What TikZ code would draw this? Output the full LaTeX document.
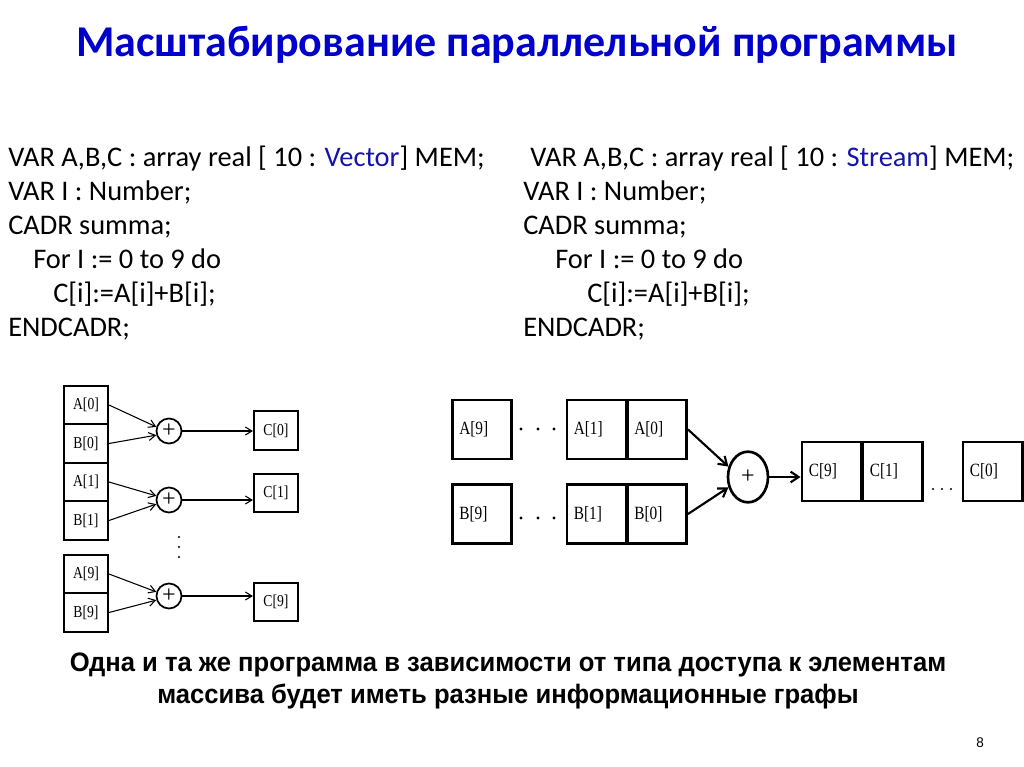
\documentclass[tikz,border=0pt]{standalone}
\usepackage{fontspec}
\setmainfont{Carlito}
\newfontfamily\timesfont{Liberation Serif}
\newfontfamily\timesnarrow[FakeStretch=0.82]{Liberation Serif}
\newfontfamily\arialfont[FakeStretch=0.96]{Liberation Sans}
\usetikzlibrary{shapes.geometric,arrows.meta}
\definecolor{titleblue}{RGB}{0,0,204}
\definecolor{typeblue}{RGB}{20,20,170}

\begin{document}
\begin{tikzpicture}[x=0.75pt,y=-0.75pt,
  code/.style={anchor=base west,inner sep=0pt,font=\fontsize{21.3}{24}\selectfont},
  cell/.style={draw,line width=1.5pt,minimum width=33pt,minimum height=28.9pt,inner sep=0pt,font=\timesnarrow\fontsize{12.5}{14}\selectfont},
  plus/.style={draw,circle,line width=1.3pt,minimum size=18.75pt,inner sep=0pt,font=\timesfont\fontsize{18}{18}\selectfont},
  wire/.style={line width=0.8pt,-{Straight Barb[length=5pt,width=6pt]}},
  bigcell/.style={draw,line width=2pt,text width=34pt,inner xsep=5.25pt,inner ysep=0pt,minimum height=44.25pt,align=left,font=\timesnarrow\fontsize{14}{16}\selectfont},
  bigplus/.style={draw,ellipse,line width=2pt,minimum width=30pt,minimum height=38pt,inner sep=0pt,font=\timesfont\fontsize{18}{18}\selectfont},
  bigwire/.style={line width=1.6pt,-{Straight Barb[length=6pt,width=8pt]}}]
\useasboundingbox (0,0) rectangle (1024,767);

% title
\node (title) at (517,45) {\fontsize{33}{36}\selectfont\bfseries\color{titleblue}Масштабирование параллельной программы};

% program with Vector access
\node[code] (v1) at (8,166) {VAR A,B,C : array real [ 10 : \textcolor{typeblue}{Vector}] MEM;};
\node[code] (v2) at (8,200) {VAR I : Number;};
\node[code] (v3) at (8,234) {CADR summa;};
\node[code] (v4) at (33,268) {For I := 0 to 9 do};
\node[code] (v5) at (53,302) {C[i]:=A[i]+B[i];};
\node[code] (v6) at (8,336) {ENDCADR;};

% program with Stream access
\node[code] (w1) at (530,166) {VAR A,B,C : array real [ 10 : \textcolor{typeblue}{Stream}] MEM;};
\node[code] (w2) at (523,200) {VAR I : Number;};
\node[code] (w3) at (523,234) {CADR summa;};
\node[code] (w4) at (555,268) {For I := 0 to 9 do};
\node[code] (w5) at (587,302) {C[i]:=A[i]+B[i];};
\node[code] (w6) at (523,336) {ENDCADR;};

% vector graph
\node[cell] (va0) at (86,405) {A[0]};
\node[cell] (vb0) at (86,443.5) {B[0]};
\node[cell] (va1) at (86,482) {A[1]};
\node[cell] (vb1) at (86,520.5) {B[1]};
\node[cell] (va9) at (86,574) {A[9]};
\node[cell] (vb9) at (86,612.5) {B[9]};
\node[plus] (vs0) at (169,431) {+};
\node[plus] (vs1) at (169,500) {+};
\node[plus] (vs9) at (169,596) {+};
\node[cell] (vc0) at (276,430.5) {C[0]};
\node[cell] (vc1) at (276,493) {C[1]};
\node[cell] (vc9) at (276,602) {C[9]};
\draw[wire] (va0.east) -- (vs0.162);
\draw[wire] (vb0.east) -- (vs0.198);
\draw[wire] (va1.east) -- (vs1.162);
\draw[wire] (vb1.east) -- (vs1.198);
\draw[wire] (va9.east) -- (vs9.162);
\draw[wire] (vb9.east) -- (vs9.198);
\draw[wire] (vs0) -- (vs0 -| vc0.west);
\draw[wire] (vs1) -- (vs1 -| vc1.west);
\draw[wire] (vs9) -- (vs9 -| vc9.west);
\foreach \y in {537,547,557} \fill (179,\y) circle (0.9pt);

% stream graph
\node[bigcell] (sa9) at (482,429.5) {A[9]};
\node[bigcell] (sa1) at (596.5,429.5) {A[1]};
\node[bigcell] (sa0) at (657,429.5) {A[0]};
\node[bigcell] (sb9) at (482,514) {B[9]};
\node[bigcell] (sb1) at (596.5,514) {B[1]};
\node[bigcell] (sb0) at (657,514) {B[0]};
\foreach \x in {521,538,554} {\fill (\x,429) circle (1.2pt); \fill (\x,518) circle (1.2pt);}
\node[bigplus] (ss) at (748,477) {+};
\node[bigcell] (sc9) at (831.5,471.5) {C[9]};
\node[bigcell] (sc1) at (892.5,471.5) {C[1]};
\node[bigcell] (sc0) at (992.5,471.5) {C[0]};
\foreach \x in {933,942,951} \fill (\x,489) circle (0.8pt);
\draw[bigwire] (sa0.east) -- (ss.152);
\draw[bigwire] (sb0.east) -- (ss.208);
\draw[bigwire] (ss) -- (ss -| sc9.west);

% note
\node (note) at (508,681) [align=center,font=\arialfont\bfseries\fontsize{20}{24}\selectfont]
  {Одна и та же программа в зависимости от типа доступа к элементам\\массива будет иметь разные информационные графы};
\node (page) at (980,743) {\arialfont\fontsize{10.5}{12}\selectfont 8};
\end{tikzpicture}
\end{document}
